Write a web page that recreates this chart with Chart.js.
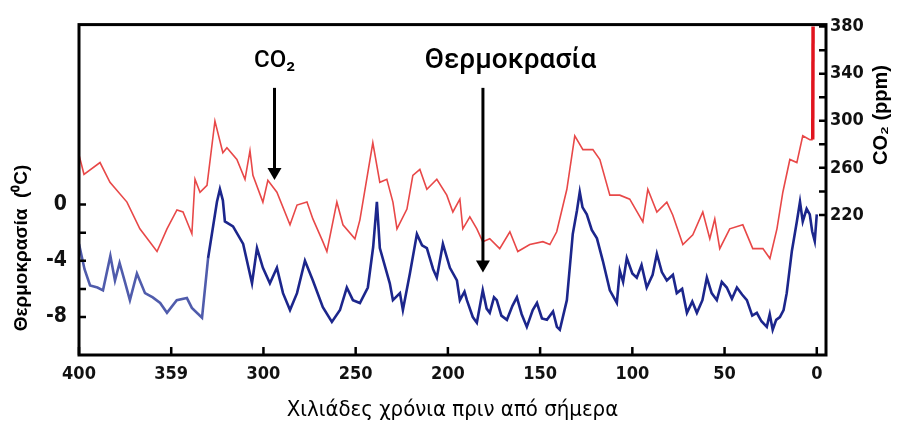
<!DOCTYPE html>
<html>
<head>
<meta charset="utf-8">
<script src="https://cdn.jsdelivr.net/npm/chart.js@4/dist/chart.umd.min.js"></script>
<style>
  body { margin: 0; background: #fff; }
</style>
</head>
<body>
<canvas id="chart" width="898" height="426"></canvas>
<script>
// axis ticks (the "359" typo is in the original figure)
const xTicks = [400, 350, 300, 250, 200, 150, 100, 50, 0];
const xTickLabels = ['400', '359', '300', '250', '200', '150', '100', '50', '0'];
const tempTicks = [0, -4, -8];
const tempMinorTicks = [0, -2, -4, -6, -8];
const co2Ticks = [220, 260, 300, 340, 380];
const co2MinorTicks = [220, 240, 260, 280, 300, 320, 340, 360, 380];

// CO2 (ppm) vs thousands of years before present
const co2Age = [400, 397.3, 388.6, 383.2, 374, 367, 357.7, 352.3, 346.9, 343.6, 338.8, 337.1, 334.4, 330.6,
  326.3, 322, 319.8, 314.4, 310, 307.3, 305.7, 300.3, 297.6, 292.7, 285.6, 281.8, 276.4, 273.2, 267.8,
  265.6, 260.2, 256.9, 250.4, 247.7, 240.7, 236.9, 233.1, 229.8, 227.6, 222.2, 219, 215.2, 211.4, 206,
  200.6, 197.3, 193.5, 191.9, 188.1, 184.3, 181.1, 177.3, 171.9, 166.4, 162.1, 155.6, 148.5, 144.7,
  141, 135.5, 131.2, 126.8, 121.4, 117.6, 112.2, 106.8, 101.4, 94.3, 91.6, 86.7, 81.3, 78.1, 72.6,
  67.2, 61.8, 58, 55.3, 52.6, 47.2, 40.1, 34.7, 29.2, 25.4, 21.6, 18.4, 14.6, 10.8, 7.6, 3.8, 2.2, 2.0];
const co2Ppm = [271, 254.5, 264.5, 247.7, 230.9, 208.2, 188.9, 208.2, 224.2, 222.5, 204, 250.3, 239.3, 245.2,
  299.8, 272.9, 277.1, 267.1, 250.3, 274.6, 253.6, 230.9, 249.4, 239.3, 211.6, 228.4, 230.9, 216.6, 197.3,
  188.9, 230.9, 211.6, 199.8, 215.8, 281.3, 247.7, 250.3, 230.9, 208.2, 225, 253.6, 258.7, 241.8, 250.3,
  236.8, 222.5, 233.4, 208.2, 218.3, 208.2, 197.3, 199.8, 191.4, 205.7, 188.9, 194.8, 197.3, 194.8,
  205.7, 241.8, 287.2, 275.5, 275.5, 267.1, 236.8, 236.8, 233.4, 214.1, 241.8, 222.5, 230.9, 220, 194.8,
  203.2, 222.5, 199.8, 216.6, 191.4, 208.2, 211.6, 191.4, 191.4, 183, 208.2, 239.3, 267.1, 264.5, 287.2, 283.9, 284, 380];

// temperature anomaly (°C)
const tempAge = [400, 397, 394, 390, 387, 383, 380.5, 378, 375, 372.4, 368.6, 364.2, 360, 356, 352.3, 347,
  341.5, 338.8, 333.3, 330, 325.2, 323.6, 322, 320.9, 316.5, 311, 306.2, 303.5, 300.3, 296.5, 292.7, 289.4,
  285.6, 281.8, 277.5, 273.2, 267.8, 262.9, 258.5, 254.8, 251.5, 247.7, 243.4, 240.5, 238.5, 236.9, 231.5,
  229.8, 226, 224.4, 220.6, 216.8, 214, 211.4, 208, 206, 202.7, 198.9, 195.1, 193.5, 191, 189.7, 186.5,
  184.3, 181.1, 179, 177.3, 175, 173.5, 171, 168, 165, 162.6, 160, 157.2, 154, 151.7, 149, 146.3, 143,
  140.9, 139.3, 135.5, 132.3, 130, 128.5, 127, 124.7, 122, 119.2, 116, 112.2, 108.4, 106.8, 105, 103, 100,
  97.6, 95, 92.2, 89, 86.7, 84, 81.3, 78, 75.9, 73, 70.4, 67.5, 65, 62, 59.6, 57, 54.2, 51.5, 48.8, 46,
  43.3, 40.5, 37.9, 35, 32.5, 30, 27.1, 25.5, 23.9, 22, 20, 18, 16.3, 13.5, 10.8, 9.1, 7.6, 5.5, 3.8, 2.5, 1.1, 0];
const tempC = [-2.8, -4.6, -5.75, -5.9, -6.1, -3.65, -5.4, -4.15, -5.55, -6.8, -4.9, -6.3, -6.6, -7.0, -7.7, -6.8,
  -6.65, -7.35, -8.05, -3.8, 0.2, 1.1, 0.3, -1.2, -1.55, -2.8, -5.6, -3.1, -4.5, -5.6, -4.5, -6.3,
  -7.5, -6.3, -4.0, -5.4, -7.3, -8.35, -7.5, -5.9, -6.8, -7.0, -5.9, -3.0, 0.2, -3.1, -5.6,
  -6.8, -6.3, -7.5, -4.9, -2.1, -2.9, -3.1, -4.6, -5.2, -2.8, -4.5, -5.4, -6.8, -6.2, -6.8, -8.0,
  -8.4, -6.1, -7.4, -7.7, -6.6, -6.8, -7.9, -8.2, -7.2, -6.6, -7.8, -8.7, -7.5, -7.0, -8.1, -8.2, -7.6,
  -8.7, -8.9, -6.8, -2.1, -0.4, 0.9, -0.2, -0.7, -1.8, -2.4, -4.0, -6.1, -7.0, -4.7, -5.5, -3.8, -4.9,
  -5.2, -4.3, -5.9, -5.0, -3.5, -4.8, -5.4, -5.0, -6.3, -6.0, -7.7, -6.9, -7.7, -6.8, -5.2, -6.3, -6.8, -5.5, -5.9, -6.7,
  -5.9, -6.4, -6.8, -7.9, -7.7, -8.3, -8.7, -7.8, -8.9, -8.2, -8.0, -7.5, -6.3, -3.3, -1.2, 0.2, -1.2, -0.3, -0.7, -1.9, -2.6, -0.7];

// annotation labels and arrows, placed in data units (age, °C)
const noteTexts = ['CO₂', 'Θερμοκρασία'];
const noteSizes = [24, 28];
const noteAges = [294, 166];
const noteTemps = [10.2, 10.2];
const arrowAges = [294, 181];
const arrowFrom = [8.3, 8.3];
const arrowTo = [1.75, -4.84];

const NARROW = '"Liberation Sans Narrow", "DejaVu Sans Condensed", "Liberation Sans", sans-serif';
const SANS = '"Liberation Sans", Arial, sans-serif';

const co2Data = co2Age.map((a, i) => ({ x: a, y: co2Ppm[i] }));
const tempData = tempAge.map((a, i) => ({ x: a, y: tempC[i] }));

const decorPlugin = {
  id: 'decor',
  afterDraw(chart) {
    const ctx = chart.ctx;
    const area = chart.chartArea;
    const xs = chart.scales.x, yt = chart.scales.yTemp, yc = chart.scales.yCo2;
    ctx.save();
    ctx.strokeStyle = '#000';
    ctx.lineWidth = 3;
    ctx.strokeRect(area.left, area.top, area.right - area.left, area.bottom - area.top);

    // inward tick marks
    ctx.lineWidth = 2.5;
    ctx.beginPath();
    xTicks.forEach(v => {
      const px = xs.getPixelForValue(v);
      ctx.moveTo(px, area.bottom); ctx.lineTo(px, area.bottom - 8);
    });
    tempMinorTicks.forEach(v => {
      const py = yt.getPixelForValue(v);
      ctx.moveTo(area.left, py); ctx.lineTo(area.left + 7, py);
    });
    co2MinorTicks.forEach(v => {
      const py = yc.getPixelForValue(v);
      ctx.moveTo(area.right, py); ctx.lineTo(area.right - 7, py);
    });
    ctx.stroke();

    // arrows
    ctx.fillStyle = '#000';
    arrowAges.forEach((a, i) => {
      const px = xs.getPixelForValue(a);
      const y0 = yt.getPixelForValue(arrowFrom[i]);
      const y1 = yt.getPixelForValue(arrowTo[i]);
      ctx.lineWidth = 3;
      ctx.beginPath();
      ctx.moveTo(px, y0); ctx.lineTo(px, y1 - 10);
      ctx.stroke();
      ctx.beginPath();
      ctx.moveTo(px - 7, y1 - 12); ctx.lineTo(px + 7, y1 - 12); ctx.lineTo(px, y1);
      ctx.closePath();
      ctx.fill();
    });

    // annotation texts
    ctx.textAlign = 'center';
    ctx.textBaseline = 'middle';
    noteTexts.forEach((t, i) => {
      ctx.font = '500 ' + noteSizes[i] + 'px Roboto, ' + SANS;
      ctx.fillText(t, xs.getPixelForValue(noteAges[i]), yt.getPixelForValue(noteTemps[i]));
    });

    // axis titles
    ctx.font = '22px ' + NARROW;
    ctx.fillText('Χιλιάδες χρόνια πριν από σήμερα', (area.left + area.right) / 2, 410);

    ctx.font = 'bold 19px ' + SANS;
    ctx.save();
    ctx.translate(22, 248);
    ctx.rotate(-Math.PI / 2);
    ctx.fillText('Θερμοκρασία  (⁰C)', 0, 0);
    ctx.restore();

    ctx.font = 'bold 20px ' + SANS;
    ctx.save();
    ctx.translate(881, 115);
    ctx.rotate(-Math.PI / 2);
    ctx.fillText('CO₂ (ppm)', 0, 0);
    ctx.restore();
    ctx.restore();
  }
};

new Chart(document.getElementById('chart'), {
  type: 'line',
  data: {
    datasets: [
      {
        label: 'CO2',
        data: co2Data,
        yAxisID: 'yCo2',
        borderColor: 'rgb(232, 72, 72)',
        borderWidth: 1.6,
        pointRadius: 0,
        tension: 0,
        segment: {
          borderColor: c => c.p1.parsed.x < 2.1 ? 'rgb(225, 20, 30)' : undefined,
          borderWidth: c => c.p1.parsed.x < 2.1 ? 3.5 : undefined
        }
      },
      {
        label: 'Temperature',
        data: tempData,
        yAxisID: 'yTemp',
        borderColor: 'rgb(28, 38, 140)',
        borderWidth: 2.6,
        pointRadius: 0,
        tension: 0,
        segment: {
          // older part of the record is printed in a paler blue
          borderColor: c => c.p0.parsed.x > 330 ? 'rgb(80, 92, 172)' : undefined
        }
      }
    ]
  },
  options: {
    responsive: false,
    animation: false,
    layout: { padding: { top: 20, left: 0, right: 0, bottom: 0 } },
    plugins: { legend: { display: false }, tooltip: { enabled: false } },
    scales: {
      x: {
        type: 'linear',
        reverse: true,
        min: -5,
        max: 400,
        afterBuildTicks: s => { s.ticks = xTicks.map(v => ({ value: v })); },
        afterFit: s => { s.height = 71; },
        grid: { display: false, drawTicks: false },
        border: { display: false },
        ticks: {
          padding: 9,
          color: '#111',
          font: { family: NARROW, size: 18, weight: 'bold' },
          maxRotation: 0,
          autoSkip: false,
          callback: v => xTickLabels[xTicks.indexOf(v)]
        }
      },
      yTemp: {
        position: 'left',
        min: -10.7,
        max: 12.8,
        afterBuildTicks: s => { s.ticks = tempTicks.map(v => ({ value: v })); },
        afterFit: s => { s.width = 79; },
        grid: { display: false, drawTicks: false },
        border: { display: false },
        ticks: {
          padding: 12,
          color: '#111',
          font: { family: NARROW, size: 21, weight: 'bold' },
          callback: v => String(v)
        }
      },
      yCo2: {
        position: 'right',
        min: 101,
        max: 381.7,
        afterBuildTicks: s => { s.ticks = co2Ticks.map(v => ({ value: v })); },
        afterFit: s => { s.width = 72; },
        grid: { display: false, drawTicks: false },
        border: { display: false },
        ticks: {
          padding: 4,
          color: '#111',
          font: { family: NARROW, size: 18, weight: 'bold' },
          callback: v => String(v)
        }
      }
    }
  },
  plugins: [decorPlugin]
});
</script>
</body>
</html>
